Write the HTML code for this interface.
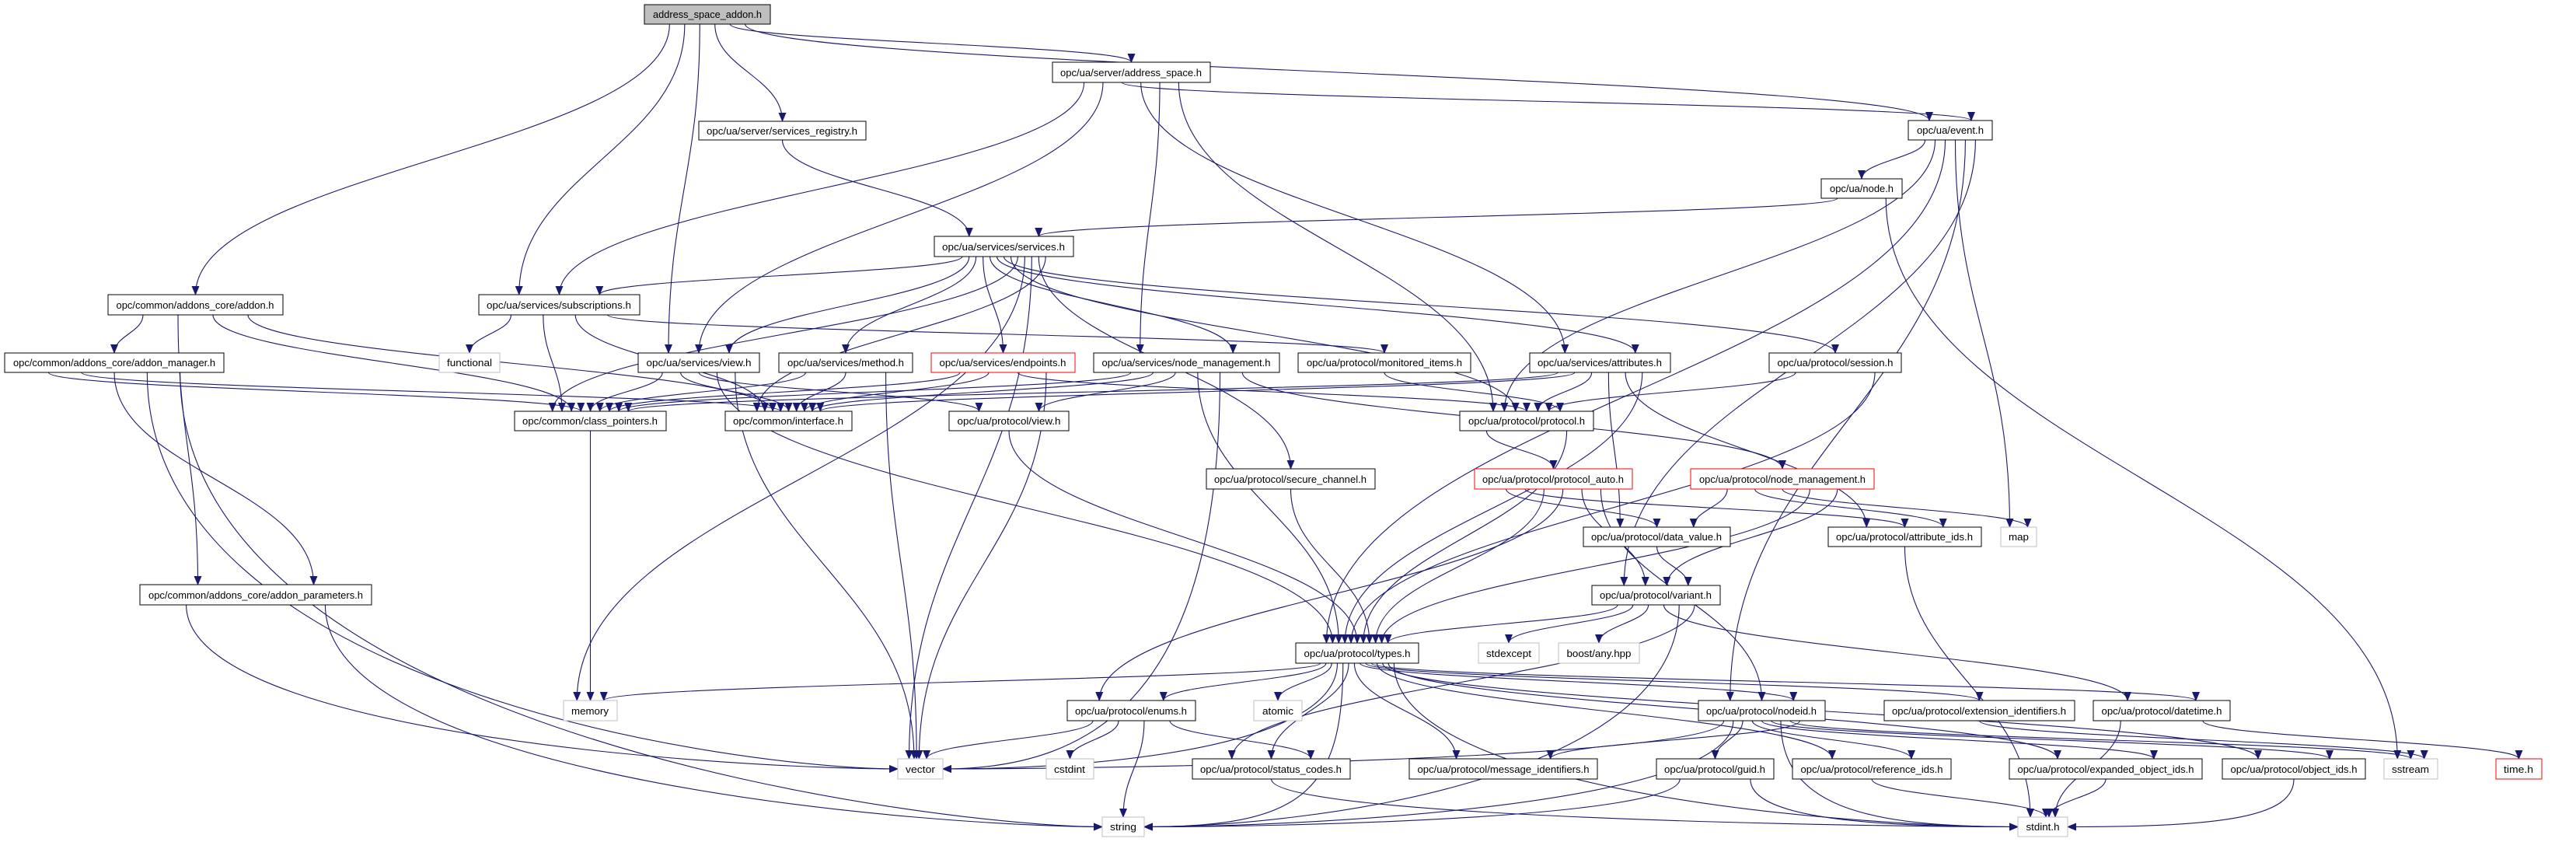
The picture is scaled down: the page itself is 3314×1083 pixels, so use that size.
<!DOCTYPE html>
<html><head><meta charset="utf-8">
<style>
html,body{margin:0;padding:0;background:#fff;}
svg{display:block;}
text{font-family:"Liberation Sans",sans-serif;font-size:13px;fill:#000;}
</style></head>
<body>
<svg id="g" width="3314" height="1083" viewBox="0 0 3314 1083" xmlns="http://www.w3.org/2000/svg">
<defs>
<marker id="ah" markerWidth="12" markerHeight="10" refX="11" refY="5" orient="auto" markerUnits="userSpaceOnUse">
<path d="M0,0 L12,5 L0,10 z" fill="#191970"/>
</marker>
</defs>
<g id="edges" fill="none" stroke="#191970" stroke-width="1.1"></g>
<g id="nodes">
<rect id="root" x="829" y="6" width="162" height="25" fill="#bfbfbf" stroke="#000"/><text x="910" y="23" text-anchor="middle" textLength="140" lengthAdjust="spacingAndGlyphs">address_space_addon.h</text>
<rect id="asp" x="1354" y="80" width="203" height="26" fill="#fff" stroke="#000"/><text x="1455" y="98" text-anchor="middle" textLength="182" lengthAdjust="spacingAndGlyphs">opc/ua/server/address_space.h</text>
<rect id="reg" x="899" y="156" width="215" height="24" fill="#fff" stroke="#000"/><text x="1006" y="173" text-anchor="middle" textLength="194" lengthAdjust="spacingAndGlyphs">opc/ua/server/services_registry.h</text>
<rect id="event" x="2455" y="155" width="108" height="25" fill="#fff" stroke="#000"/><text x="2509" y="172" text-anchor="middle" textLength="86" lengthAdjust="spacingAndGlyphs">opc/ua/event.h</text>
<rect id="node" x="2343" y="230" width="104" height="25" fill="#fff" stroke="#000"/><text x="2395" y="247" text-anchor="middle" textLength="82" lengthAdjust="spacingAndGlyphs">opc/ua/node.h</text>
<rect id="svc" x="1202" y="304" width="179" height="26" fill="#fff" stroke="#000"/><text x="1291" y="322" text-anchor="middle" textLength="158" lengthAdjust="spacingAndGlyphs">opc/ua/services/services.h</text>
<rect id="addon" x="139" y="379" width="225" height="26" fill="#fff" stroke="#000"/><text x="251" y="397" text-anchor="middle" textLength="203" lengthAdjust="spacingAndGlyphs">opc/common/addons_core/addon.h</text>
<rect id="subs" x="616" y="379" width="207" height="26" fill="#fff" stroke="#000"/><text x="719" y="397" text-anchor="middle" textLength="186" lengthAdjust="spacingAndGlyphs">opc/ua/services/subscriptions.h</text>
<rect id="mgr" x="6" y="454" width="282" height="25" fill="#fff" stroke="#000"/><text x="147" y="471" text-anchor="middle" textLength="260" lengthAdjust="spacingAndGlyphs">opc/common/addons_core/addon_manager.h</text>
<rect id="functional" x="565" y="454" width="78" height="25" fill="#fff" stroke="#bfbfbf"/><text x="604" y="471" text-anchor="middle" textLength="58" lengthAdjust="spacingAndGlyphs">functional</text>
<rect id="sview" x="821" y="454" width="156" height="25" fill="#fff" stroke="#000"/><text x="899" y="471" text-anchor="middle" textLength="135" lengthAdjust="spacingAndGlyphs">opc/ua/services/view.h</text>
<rect id="method" x="1002" y="454" width="172" height="25" fill="#fff" stroke="#000"/><text x="1088" y="471" text-anchor="middle" textLength="150" lengthAdjust="spacingAndGlyphs">opc/ua/services/method.h</text>
<rect id="endp" x="1198" y="454" width="185" height="25" fill="#fff" stroke="#ff0000"/><text x="1290" y="471" text-anchor="middle" textLength="163" lengthAdjust="spacingAndGlyphs">opc/ua/services/endpoints.h</text>
<rect id="snm" x="1407" y="454" width="239" height="25" fill="#fff" stroke="#000"/><text x="1526" y="471" text-anchor="middle" textLength="217" lengthAdjust="spacingAndGlyphs">opc/ua/services/node_management.h</text>
<rect id="mon" x="1670" y="454" width="222" height="25" fill="#fff" stroke="#000"/><text x="1781" y="471" text-anchor="middle" textLength="200" lengthAdjust="spacingAndGlyphs">opc/ua/protocol/monitored_items.h</text>
<rect id="attr" x="1968" y="454" width="181" height="25" fill="#fff" stroke="#000"/><text x="2058" y="471" text-anchor="middle" textLength="160" lengthAdjust="spacingAndGlyphs">opc/ua/services/attributes.h</text>
<rect id="sess" x="2276" y="454" width="170" height="25" fill="#fff" stroke="#000"/><text x="2361" y="471" text-anchor="middle" textLength="149" lengthAdjust="spacingAndGlyphs">opc/ua/protocol/session.h</text>
<rect id="cp" x="662" y="529" width="195" height="25" fill="#fff" stroke="#000"/><text x="759" y="546" text-anchor="middle" textLength="174" lengthAdjust="spacingAndGlyphs">opc/common/class_pointers.h</text>
<rect id="intf" x="933" y="529" width="163" height="25" fill="#fff" stroke="#000"/><text x="1014" y="546" text-anchor="middle" textLength="142" lengthAdjust="spacingAndGlyphs">opc/common/interface.h</text>
<rect id="pview" x="1221" y="529" width="154" height="25" fill="#fff" stroke="#000"/><text x="1298" y="546" text-anchor="middle" textLength="133" lengthAdjust="spacingAndGlyphs">opc/ua/protocol/view.h</text>
<rect id="proto" x="1878" y="529" width="172" height="25" fill="#fff" stroke="#000"/><text x="1964" y="546" text-anchor="middle" textLength="150" lengthAdjust="spacingAndGlyphs">opc/ua/protocol/protocol.h</text>
<rect id="sec" x="1552" y="603" width="217" height="26" fill="#fff" stroke="#000"/><text x="1660" y="621" text-anchor="middle" textLength="196" lengthAdjust="spacingAndGlyphs">opc/ua/protocol/secure_channel.h</text>
<rect id="pauto" x="1897" y="603" width="203" height="26" fill="#fff" stroke="#ff0000"/><text x="1998" y="621" text-anchor="middle" textLength="182" lengthAdjust="spacingAndGlyphs">opc/ua/protocol/protocol_auto.h</text>
<rect id="pnm" x="2175" y="603" width="236" height="26" fill="#fff" stroke="#ff0000"/><text x="2293" y="621" text-anchor="middle" textLength="214" lengthAdjust="spacingAndGlyphs">opc/ua/protocol/node_management.h</text>
<rect id="dv" x="2037" y="678" width="189" height="25" fill="#fff" stroke="#000"/><text x="2131" y="695" text-anchor="middle" textLength="168" lengthAdjust="spacingAndGlyphs">opc/ua/protocol/data_value.h</text>
<rect id="aids" x="2352" y="678" width="197" height="25" fill="#fff" stroke="#000"/><text x="2450" y="695" text-anchor="middle" textLength="176" lengthAdjust="spacingAndGlyphs">opc/ua/protocol/attribute_ids.h</text>
<rect id="map" x="2574" y="678" width="46" height="25" fill="#fff" stroke="#bfbfbf"/><text x="2597" y="695" text-anchor="middle" textLength="26" lengthAdjust="spacingAndGlyphs">map</text>
<rect id="param" x="180" y="752" width="298" height="26" fill="#fff" stroke="#000"/><text x="329" y="770" text-anchor="middle" textLength="276" lengthAdjust="spacingAndGlyphs">opc/common/addons_core/addon_parameters.h</text>
<rect id="var" x="2048" y="753" width="165" height="25" fill="#fff" stroke="#000"/><text x="2130" y="770" text-anchor="middle" textLength="144" lengthAdjust="spacingAndGlyphs">opc/ua/protocol/variant.h</text>
<rect id="types" x="1667" y="827" width="158" height="26" fill="#fff" stroke="#000"/><text x="1746" y="845" text-anchor="middle" textLength="137" lengthAdjust="spacingAndGlyphs">opc/ua/protocol/types.h</text>
<rect id="stdexcept" x="1902" y="827" width="78" height="26" fill="#fff" stroke="#bfbfbf"/><text x="1941" y="845" text-anchor="middle" textLength="58" lengthAdjust="spacingAndGlyphs">stdexcept</text>
<rect id="boost" x="2005" y="827" width="104" height="26" fill="#fff" stroke="#bfbfbf"/><text x="2057" y="845" text-anchor="middle" textLength="83" lengthAdjust="spacingAndGlyphs">boost/any.hpp</text>
<rect id="memory" x="725" y="901" width="69" height="26" fill="#fff" stroke="#bfbfbf"/><text x="759" y="919" text-anchor="middle" textLength="48" lengthAdjust="spacingAndGlyphs">memory</text>
<rect id="enums" x="1373" y="901" width="165" height="26" fill="#fff" stroke="#000"/><text x="1455" y="919" text-anchor="middle" textLength="144" lengthAdjust="spacingAndGlyphs">opc/ua/protocol/enums.h</text>
<rect id="atomic" x="1613" y="901" width="62" height="26" fill="#fff" stroke="#bfbfbf"/><text x="1644" y="919" text-anchor="middle" textLength="40" lengthAdjust="spacingAndGlyphs">atomic</text>
<rect id="nodeid" x="2185" y="901" width="163" height="26" fill="#fff" stroke="#000"/><text x="2266" y="919" text-anchor="middle" textLength="142" lengthAdjust="spacingAndGlyphs">opc/ua/protocol/nodeid.h</text>
<rect id="ext" x="2424" y="901" width="245" height="26" fill="#fff" stroke="#000"/><text x="2546" y="919" text-anchor="middle" textLength="224" lengthAdjust="spacingAndGlyphs">opc/ua/protocol/extension_identifiers.h</text>
<rect id="dt" x="2693" y="901" width="176" height="26" fill="#fff" stroke="#000"/><text x="2781" y="919" text-anchor="middle" textLength="155" lengthAdjust="spacingAndGlyphs">opc/ua/protocol/datetime.h</text>
<rect id="vector" x="1155" y="976" width="58" height="26" fill="#fff" stroke="#bfbfbf"/><text x="1184" y="994" text-anchor="middle" textLength="38" lengthAdjust="spacingAndGlyphs">vector</text>
<rect id="cstdint" x="1346" y="976" width="61" height="26" fill="#fff" stroke="#bfbfbf"/><text x="1376" y="994" text-anchor="middle" textLength="40" lengthAdjust="spacingAndGlyphs">cstdint</text>
<rect id="sc" x="1534" y="976" width="203" height="26" fill="#fff" stroke="#000"/><text x="1635" y="994" text-anchor="middle" textLength="182" lengthAdjust="spacingAndGlyphs">opc/ua/protocol/status_codes.h</text>
<rect id="msg" x="1813" y="976" width="242" height="26" fill="#fff" stroke="#000"/><text x="1934" y="994" text-anchor="middle" textLength="221" lengthAdjust="spacingAndGlyphs">opc/ua/protocol/message_identifiers.h</text>
<rect id="guid" x="2131" y="976" width="151" height="26" fill="#fff" stroke="#000"/><text x="2206" y="994" text-anchor="middle" textLength="130" lengthAdjust="spacingAndGlyphs">opc/ua/protocol/guid.h</text>
<rect id="ref" x="2306" y="976" width="204" height="26" fill="#fff" stroke="#000"/><text x="2408" y="994" text-anchor="middle" textLength="183" lengthAdjust="spacingAndGlyphs">opc/ua/protocol/reference_ids.h</text>
<rect id="eoid" x="2585" y="976" width="248" height="26" fill="#fff" stroke="#000"/><text x="2709" y="994" text-anchor="middle" textLength="227" lengthAdjust="spacingAndGlyphs">opc/ua/protocol/expanded_object_ids.h</text>
<rect id="oid" x="2859" y="976" width="184" height="26" fill="#fff" stroke="#000"/><text x="2951" y="994" text-anchor="middle" textLength="163" lengthAdjust="spacingAndGlyphs">opc/ua/protocol/object_ids.h</text>
<rect id="sstream" x="3067" y="976" width="69" height="26" fill="#fff" stroke="#bfbfbf"/><text x="3101" y="994" text-anchor="middle" textLength="48" lengthAdjust="spacingAndGlyphs">sstream</text>
<rect id="time" x="3211" y="976" width="59" height="26" fill="#fff" stroke="#ff0000"/><text x="3240" y="994" text-anchor="middle" textLength="38" lengthAdjust="spacingAndGlyphs">time.h</text>
<rect id="string" x="1418" y="1051" width="54" height="25" fill="#fff" stroke="#bfbfbf"/><text x="1445" y="1068" text-anchor="middle" textLength="34" lengthAdjust="spacingAndGlyphs">string</text>
<rect id="stdint" x="2596" y="1051" width="64" height="25" fill="#fff" stroke="#bfbfbf"/><text x="2628" y="1068" text-anchor="middle" textLength="43" lengthAdjust="spacingAndGlyphs">stdint.h</text>
</g>
</svg>
<script>
(function(){
var E=[
['root','addon'],['root','subs'],['root','sview'],['root','reg'],['root','asp'],['root','event'],
['asp','subs'],['asp','sview'],['asp','event'],['asp','attr'],['asp','snm'],['asp','proto'],
['reg','svc'],
['event','node'],['event','proto'],['event','types'],['event','map'],['event','nodeid'],['event','var'],
['node','svc'],['node','sstream'],
['svc','subs'],['svc','sview'],['svc','method'],['svc','endp'],['svc','snm'],['svc','attr'],['svc','sess'],['svc','proto'],['svc','cp'],['svc','memory'],['svc','vector'],['svc','sec'],['svc','intf'],
['subs','functional'],['subs','cp'],['subs','intf'],['subs','mon'],
['addon','mgr'],['addon','param'],['addon','cp'],['addon','intf'],
['mgr','cp'],['mgr','intf'],['mgr','param'],['mgr','vector'],['mgr','string'],
['sview','cp'],['sview','intf'],['sview','pview'],['sview','types'],['sview','vector'],
['method','cp'],['method','intf'],['method','vector'],
['endp','cp'],['endp','intf'],['endp','proto'],['endp','vector'],
['snm','cp'],['snm','intf'],['snm','pview'],['snm','types'],['snm','vector'],['snm','pnm'],
['attr','cp'],['attr','intf'],['attr','proto'],['attr','dv'],['attr','aids'],['attr','types'],
['sess','proto'],['sess','types'],
['mon','proto'],
['cp','memory'],
['pview','types'],
['proto','pauto'],['proto','types'],
['sec','types'],
['pauto','dv'],['pauto','aids'],['pauto','types'],['pauto','enums'],['pauto','var'],['pauto','nodeid'],
['pnm','dv'],['pnm','aids'],['pnm','map'],['pnm','types'],['pnm','var'],
['dv','var'],
['var','types'],['var','stdexcept'],['var','boost'],['var','dt'],['var','string'],['var','sc'],
['aids','stdint'],
['types','memory'],['types','enums'],['types','atomic'],['types','vector'],['types','string'],['types','sc'],['types','msg'],['types','nodeid'],['types','ext'],['types','dt'],['types','ref'],['types','oid'],['types','eoid'],['types','stdint'],
['enums','vector'],['enums','cstdint'],['enums','string'],['enums','sc'],
['nodeid','vector'],['nodeid','string'],['nodeid','guid'],['nodeid','ref'],['nodeid','eoid'],['nodeid','oid'],['nodeid','stdint'],['nodeid','sstream'],['nodeid','msg'],
['sc','stdint'],['guid','string'],['guid','stdint'],['ref','stdint'],['eoid','stdint'],['oid','stdint'],
['dt','stdint'],['dt','time'],['ext','sstream'],
['param','vector'],['param','string']
];
function box(id){var r=document.getElementById(id);var x=+r.getAttribute('x'),y=+r.getAttribute('y'),w=+r.getAttribute('width'),h=+r.getAttribute('height');return {x:x,y:y,w:w,h:h,cx:x+w/2,cy:y+h/2};}
var outs={},ins={};
E.forEach(function(e){(outs[e[0]]=outs[e[0]]||[]).push(e);(ins[e[1]]=ins[e[1]]||[]).push(e);});
var g=document.getElementById('edges'),NS='http://www.w3.org/2000/svg';
E.forEach(function(e){
  var a=box(e[0]),b=box(e[1]);
  var oi=outs[e[0]].indexOf(e),on=outs[e[0]].length;
  var ii=ins[e[1]].indexOf(e),inn=ins[e[1]].length;
  var sx=a.x+a.w*(0.2+0.6*(on>1?oi/(on-1):0.5));
  var tx=b.x+b.w*(0.25+0.5*(inn>1?ii/(inn-1):0.5));
  var sy,ty,d;
  if(b.y>a.y+a.h){
    sy=a.y+a.h; ty=b.y;
    if(Math.abs(b.y-(a.y+a.h))>200 && Math.abs(tx-sx)>600 && b.y===a.y){}
    d=(ty-sy)*0.45;
    var p='M'+sx+','+sy+' C'+sx+','+(sy+d)+' '+tx+','+(ty-d)+' '+tx+','+ty;
  } else {
    // same row or upward: side to side
    if(b.cx>a.cx){sx=a.x+a.w;tx=b.x;}else{sx=a.x;tx=b.x+b.w;}
    sy=a.cy;ty=b.cy;
    var p='M'+sx+','+sy+' C'+((sx+tx)/2)+','+sy+' '+((sx+tx)/2)+','+ty+' '+tx+','+ty;
  }
  // bottom targets (vector,string,stdint) approached from side when far
  if((e[1]==='vector'||e[1]==='string'||e[1]==='stdint')&&Math.abs(tx-sx)>250&&b.y>a.y+a.h){
    ty=b.cy; tx=(a.cx<b.cx)?b.x:b.x+b.w; sy=a.y+a.h;
    var dy=ty-sy;
    p='M'+sx+','+sy+' C'+sx+','+(sy+dy*0.8)+' '+(tx+(a.cx<b.cx?-200:200))+','+ty+' '+tx+','+ty;
  }
  var path=document.createElementNS(NS,'path');
  path.setAttribute('d',p);path.setAttribute('marker-end','url(#ah)');
  g.appendChild(path);
});
})();
</script>
</body></html>
